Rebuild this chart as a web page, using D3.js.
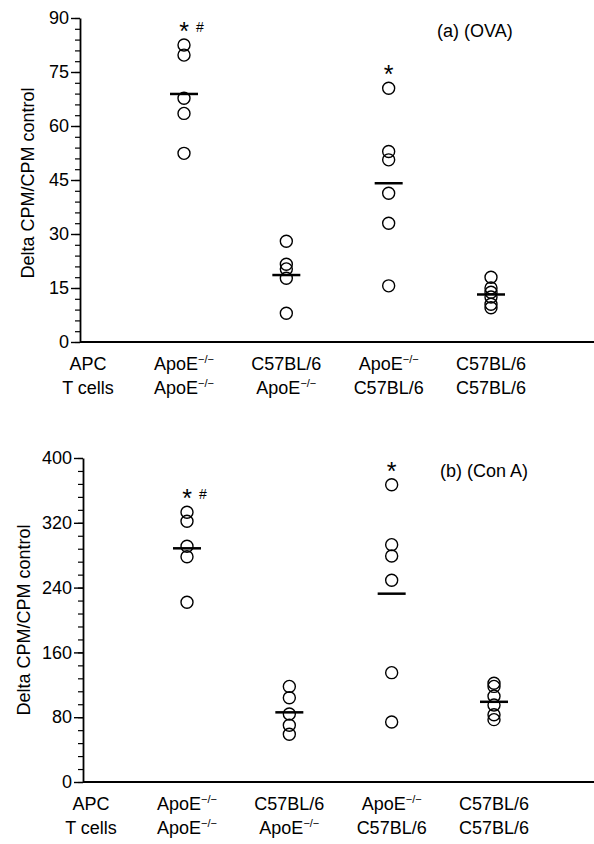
<!DOCTYPE html>
<html>
<head>
<meta charset="utf-8">
<script src="https://cdn.jsdelivr.net/npm/d3@7"></script>
<style>
  html, body { margin: 0; padding: 0; background: #fff; }
  svg { display: block; }
  text { font-family: "Liberation Sans", Arial, Helvetica, sans-serif; fill: #000; }
</style>
</head>
<body>
<svg id="chart" width="594" height="844"></svg>
<script>
// ---- data ----
const groups = ["g1", "g2", "g3", "g4"];
const apcLabels = ["ApoE", "C57BL/6", "ApoE", "C57BL/6"];
const apcKO = [true, false, true, false];
const tLabels = ["ApoE", "ApoE", "C57BL/6", "C57BL/6"];
const tKO = [true, true, false, false];

const ovaValues = [
  [82.5, 79.7, 67.7, 63.5, 52.4],
  [28.0, 21.6, 20.3, 17.7, 8.0],
  [70.5, 52.9, 50.6, 41.3, 33.0, 15.6],
  [18.0, 15.0, 13.8, 12.5, 10.5, 9.5]
];
const ovaMeans = [68.9, 18.6, 44.1, 13.2];
const ovaTicks = [0, 15, 30, 45, 60, 75, 90];
const ovaMinorStep = 3;
const ovaMarks = ["*#", "", "*", ""];

const conValues = [
  [333, 322, 291, 278, 222],
  [118, 104, 84, 70, 59],
  [367, 293, 279, 249, 135, 74],
  [122, 118, 106, 95, 83, 77]
];
const conMeans = [288.5, 86, 232.5, 99];
const conTicks = [0, 80, 160, 240, 320, 400];
const conMinorStep = 16;
const conMarks = ["*#", "", "*", ""];

const yTitle = "Delta CPM/CPM control";

// ---- drawing ----
const svg = d3.select("#chart");
const FS = 18;

function panel(cfg) {
  const g = svg.append("g");
  const y = d3.scaleLinear().domain([0, cfg.ticks[cfg.ticks.length - 1]]).range([cfg.bottom, cfg.top]);
  const x = d3.scalePoint().domain(groups).range([cfg.axisX + 104, cfg.axisX + 411]);

  // minor ticks
  const minor = d3.range(0, cfg.ticks[cfg.ticks.length - 1] + 0.001, cfg.minorStep);
  g.append("g")
    .attr("transform", `translate(${cfg.axisX},0)`)
    .call(d3.axisLeft(y).tickValues(minor).tickSize(5).tickFormat(""))
    .call(s => s.select(".domain").remove())
    .call(s => s.selectAll("line").attr("stroke", "#000").attr("stroke-width", 1.2));

  // major ticks + domain
  const ax = g.append("g")
    .attr("transform", `translate(${cfg.axisX},0)`)
    .call(d3.axisLeft(y).tickValues(cfg.ticks).tickSize(9).tickSizeOuter(0).tickPadding(2));
  ax.select(".domain").attr("stroke", "#000").attr("stroke-width", 1.8);
  ax.selectAll(".tick line").attr("stroke", "#000").attr("stroke-width", 1.4);
  ax.selectAll(".tick text").style("font-size", FS + "px").attr("fill", "#000")
    .style("font-family", '"Liberation Sans", Arial, sans-serif');

  // x axis line
  g.append("line")
    .attr("x1", cfg.axisX).attr("x2", 594)
    .attr("y1", y(0)).attr("y2", y(0))
    .attr("stroke", "#000").attr("stroke-width", 1.8);

  // y title
  g.append("text")
    .attr("transform", `translate(${cfg.titleX},${cfg.titleY}) rotate(-90)`)
    .attr("text-anchor", "middle")
    .attr("dy", "0.35em")
    .style("font-size", FS + "px")
    .text(yTitle);

  // panel label
  g.append("text")
    .attr("x", cfg.labelX).attr("y", cfg.top + 19)
    .style("font-size", FS + "px")
    .text(cfg.label);

  // points
  groups.forEach((gr, i) => {
    g.append("g").selectAll("circle")
      .data(cfg.values[i])
      .join("circle")
      .attr("cx", x(gr))
      .attr("cy", d => y(d))
      .attr("r", 6)
      .attr("fill", "none")
      .attr("stroke", "#000")
      .attr("stroke-width", 1.4);

    g.append("line")
      .attr("x1", x(gr) - 14).attr("x2", x(gr) + 14)
      .attr("y1", y(cfg.means[i])).attr("y2", y(cfg.means[i]))
      .attr("stroke", "#000").attr("stroke-width", 2.5);

    const mk = cfg.marks[i];
    if (mk) {
      const c = y(d3.max(cfg.values[i])) - 19; // centre of the mark row
      g.append("text")
        .attr("x", x(gr)).attr("y", c + 14)
        .attr("text-anchor", "middle")
        .style("font-size", "25px")
        .text("*");
      if (mk.includes("#")) {
        g.append("text")
          .attr("x", x(gr) + 16).attr("y", c + 6)
          .attr("text-anchor", "middle")
          .style("font-size", "14px")
          .text("#");
      }
    }
  });

  // category labels
  const row1 = y(0) + 28, row2 = y(0) + 52;
  g.append("text").attr("x", cfg.axisX + 8).attr("y", row1).attr("text-anchor", "middle")
    .style("font-size", FS + "px").text("APC");
  g.append("text").attr("x", cfg.axisX + 8).attr("y", row2).attr("text-anchor", "middle")
    .style("font-size", FS + "px").text("T cells");

  function catLabel(yy, label, ko, gr) {
    const t = g.append("text").attr("x", x(gr)).attr("y", yy).attr("text-anchor", "middle")
      .style("font-size", FS + "px");
    t.append("tspan").text(label);
    if (ko) {
      t.append("tspan").attr("dy", -7).style("font-size", "11px").text("\u2212/\u2212");
    }
  }
  groups.forEach((gr, i) => {
    catLabel(row1, apcLabels[i], apcKO[i], gr);
    catLabel(row2, tLabels[i], tKO[i], gr);
  });
}

panel({
  top: 18, bottom: 342, axisX: 80, ticks: ovaTicks, minorStep: ovaMinorStep,
  values: ovaValues, means: ovaMeans, marks: ovaMarks,
  titleX: 28, titleY: 183, label: "(a) (OVA)", labelX: 437
});
panel({
  top: 458, bottom: 782, axisX: 83, ticks: conTicks, minorStep: conMinorStep,
  values: conValues, means: conMeans, marks: conMarks,
  titleX: 24, titleY: 620, label: "(b) (Con A)", labelX: 440
});
</script>
</body>
</html>
